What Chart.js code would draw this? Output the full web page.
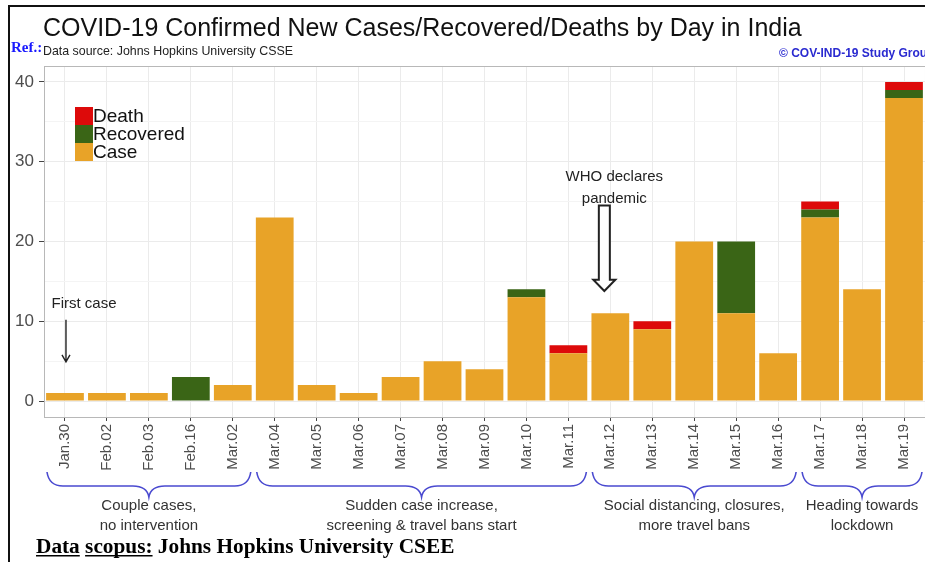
<!DOCTYPE html>
<html>
<head>
<meta charset="utf-8">
<script src="https://cdn.jsdelivr.net/npm/chart.js@4/dist/chart.umd.min.js"></script>
<style>
html,body{margin:0;padding:0;background:#fff;overflow:hidden}
canvas{display:block}
</style>
</head>
<body>
<canvas id="covidIndia" width="925" height="562"></canvas>
<script>
// Nuevos casos / recuperados / muertes por dia en India
// Datos: Johns Hopkins University CSSE

var days = ['Jan.30','Feb.02','Feb.03','Feb.16','Mar.02','Mar.04','Mar.05',
  'Mar.06','Mar.07','Mar.08','Mar.09','Mar.10','Mar.11','Mar.12','Mar.13',
  'Mar.14','Mar.15','Mar.16','Mar.17','Mar.18','Mar.19'];
var cases     = [1,1,1,0,2,23,2,1,3,5,4,13,6,11,9,20,11,6,23,14,38];
var recovered = [0,0,0,3,0,0,0,0,0,0,0,1,0,0,0,0,9,0,1,0,1];
var deaths    = [0,0,0,0,0,0,0,0,0,0,0,0,1,0,1,0,0,0,1,0,1];
var yTicks = [0,5,10,15,20,25,30,35,40];
var phases = [
  {from:'Jan.30', to:'Mar.02', text:['Couple cases,','no intervention']},
  {from:'Mar.04', to:'Mar.11', text:['Sudden case increase,','screening & travel bans start']},
  {from:'Mar.12', to:'Mar.16', text:['Social distancing, closures,','more travel bans']},
  {from:'Mar.17', to:'Mar.19', text:['Heading towards','lockdown']}
];

var SANS = '"Liberation Sans", Arial, Helvetica, sans-serif';
var SERIF = '"Liberation Serif", "Times New Roman", serif';

function arrowDown(c, x, y0, y1) {
  c.beginPath();
  c.moveTo(x, y0); c.lineTo(x, y1);
  c.moveTo(x - 4, y1 - 7); c.lineTo(x, y1); c.lineTo(x + 4, y1 - 7);
  c.stroke();
}

function brace(c, x0, x1, yTop, yMid, yTip) {
  var xm = (x0 + x1) / 2, q = 16;
  c.beginPath();
  c.moveTo(x0, yTop);
  c.quadraticCurveTo(x0 + 2, yMid, x0 + q, yMid);
  c.lineTo(xm - q, yMid);
  c.quadraticCurveTo(xm - 2, yMid, xm, yTip);
  c.quadraticCurveTo(xm + 2, yMid, xm + q, yMid);
  c.lineTo(x1 - q, yMid);
  c.quadraticCurveTo(x1 - 2, yMid, x1, yTop);
  c.stroke();
}

var decor = {
  id: 'decor',
  beforeDraw: function(chart) {
    var c = chart.ctx;
    c.save();
    c.fillStyle = '#fff';
    c.fillRect(0, 0, chart.width, chart.height);
    c.restore();
  },
  afterDraw: function(chart) {
    var c = chart.ctx, a = chart.chartArea, x = chart.scales.x, y = chart.scales.y;
    c.save();
    // panel border
    c.strokeStyle = '#b8b8b8';
    c.lineWidth = 1;
    c.strokeRect(a.left + 0.5, a.top + 0.5, a.right - a.left, a.bottom - a.top);

    // titles
    c.textBaseline = 'middle';
    c.textAlign = 'left';
    c.fillStyle = '#111';
    c.font = '25px ' + SANS;
    c.fillText('COVID-19 Confirmed New Cases/Recovered/Deaths by Day in India', a.left - 1, 29);
    c.fillStyle = '#222';
    c.font = '12.4px ' + SANS;
    c.fillText('Data source: Johns Hopkins University CSSE', a.left - 1, 52);
    c.fillStyle = '#1a1aff';
    c.font = 'bold 15px ' + SERIF;
    c.fillText('Ref.:', 11, 48);
    c.fillStyle = '#2a2ad0';
    c.font = 'bold 12px ' + SANS;
    c.fillText('\u00a9 COV-IND-19 Study Group', 779, 54);

    // legend (top entry = top of stack)
    var ds = chart.data.datasets.slice().reverse();
    var lx = a.left + 31, ly = a.top + 41;
    c.font = '19px ' + SANS;
    ds.forEach(function(d, i) {
      c.fillStyle = d.backgroundColor;
      c.fillRect(lx, ly + i * 18, 18, 18);
      c.fillStyle = '#111';
      c.fillText(d.label, lx + 18, ly + i * 18 + 10);
    });

    // annotations
    c.strokeStyle = '#222';
    c.fillStyle = '#222';
    c.lineWidth = 1.4;
    c.textAlign = 'center';
    c.font = '15px ' + SANS;
    var x0 = x.getPixelForValue(0);
    c.fillText('First case', x0 + 19, y.getPixelForValue(12.2));
    arrowDown(c, x0 + 1, y.getPixelForValue(10.2), y.getPixelForValue(4.9));

    var xw = x.getPixelForValue(days.indexOf('Mar.12'));
    c.fillText('WHO declares', xw + 4, y.getPixelForValue(28.1));
    c.fillText('pandemic', xw + 4, y.getPixelForValue(25.3));
    var st = y.getPixelForValue(24.5), hb = y.getPixelForValue(15.2), tip = y.getPixelForValue(13.8);
    var cx = xw - 6;
    c.beginPath();
    c.moveTo(cx - 5.5, st); c.lineTo(cx + 5.5, st); c.lineTo(cx + 5.5, hb);
    c.lineTo(cx + 11, hb); c.lineTo(cx, tip); c.lineTo(cx - 11, hb);
    c.lineTo(cx - 5.5, hb); c.closePath();
    c.fillStyle = '#fff'; c.fill();
    c.lineWidth = 2; c.stroke();

    // phase braces
    var band = x.getPixelForValue(1) - x.getPixelForValue(0);
    c.strokeStyle = '#4a4ad0';
    c.lineWidth = 1.6;
    c.fillStyle = '#333';
    c.font = '15px ' + SANS;
    phases.forEach(function(p) {
      var b0 = x.getPixelForValue(days.indexOf(p.from)) - band / 2 + 3;
      var b1 = x.getPixelForValue(days.indexOf(p.to)) + band / 2 - 3;
      brace(c, b0, b1, 472, 486, 497);
      c.fillText(p.text[0], (b0 + b1) / 2, 506);
      c.fillText(p.text[1], (b0 + b1) / 2, 526);
    });

    // footer
    c.textAlign = 'left';
    c.textBaseline = 'alphabetic';
    c.fillStyle = '#000';
    c.font = 'bold 21.3px ' + SERIF;
    var fx = 36, fy = 553;
    c.fillText('Data scopus: Johns Hopkins University CSEE', fx, fy);
    var w1 = c.measureText('Data').width;
    var w2 = c.measureText('Data ').width;
    var w3 = c.measureText('scopus:').width;
    c.fillRect(fx, fy + 2, w1, 1.5);
    c.fillRect(fx + w2, fy + 2, w3, 1.5);

    // frame
    c.fillStyle = '#111';
    c.fillRect(8, 5, chart.width - 8, 2);
    c.fillRect(8, 5, 2, chart.height - 5);
    c.restore();
  }
};

var ctx = document.getElementById('covidIndia');
var covidChart = new Chart(ctx, {
  type: 'bar',
  data: {
    labels: days,
    datasets: [
      {label: 'Case', data: cases, backgroundColor: '#E8A328'},
      {label: 'Recovered', data: recovered, backgroundColor: '#3A6516'},
      {label: 'Death', data: deaths, backgroundColor: '#DD0A0A'}
    ]
  },
  options: {
    responsive: false,
    animation: false,
    layout: {padding: {top: 66, left: 0, right: 0, bottom: 0}},
    datasets: {bar: {categoryPercentage: 1, barPercentage: 0.9, borderWidth: 0}},
    plugins: {legend: {display: false}, tooltip: {enabled: false}, title: {display: false}},
    scales: {
      x: {
        stacked: true,
        offset: true,
        border: {display: false},
        grid: {offset: false, color: '#ebebeb', tickColor: '#444', tickLength: 4},
        ticks: {
          minRotation: 90, maxRotation: 90, autoSkip: false, padding: 3,
          color: '#4d4d4d', font: {family: SANS, size: 15}
        },
        afterFit: function(s) { s.height = 145; }
      },
      y: {
        stacked: true,
        min: -2, max: 42,
        border: {display: false},
        afterBuildTicks: function(s) { s.ticks = yTicks.map(function(v) { return {value: v}; }); },
        grid: {
          color: function(t) { return t.tick && t.tick.value % 10 === 0 ? '#ebebeb' : '#f4f4f4'; },
          tickColor: function(t) { return t.tick && t.tick.value % 10 === 0 ? '#444' : 'rgba(0,0,0,0)'; },
          tickLength: 5
        },
        ticks: {
          autoSkip: false, padding: 5,
          color: '#4d4d4d', font: {family: SANS, size: 17},
          callback: function(v) { return v % 10 === 0 ? v : ''; }
        },
        afterFit: function(s) { s.width = 44; }
      }
    }
  },
  plugins: [decor]
});
</script>
</body>
</html>
